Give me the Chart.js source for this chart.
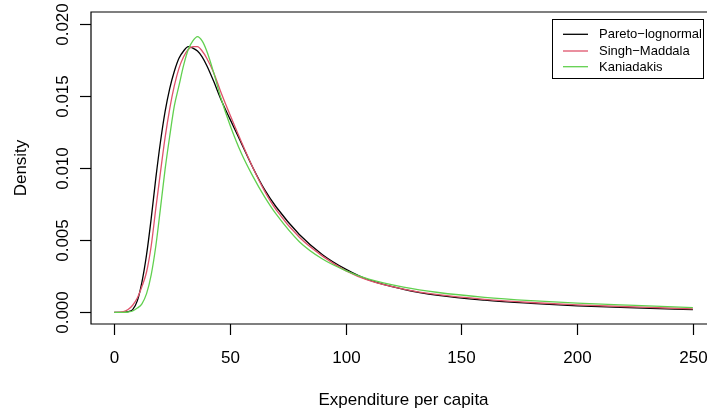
<!DOCTYPE html>
<html>
<head>
<meta charset="utf-8">
<script src="https://cdn.jsdelivr.net/npm/chart.js@4"></script>
<style>
html,body{margin:0;padding:0;background:#fff;overflow:hidden;}
#wrap{width:707px;height:412px;position:relative;}
</style>
</head>
<body>
<div id="wrap"><canvas id="c" width="707" height="412"></canvas></div>
<script>
const xValues = [0,4,6,8,10,12,14,16,18,20,22,24,26,28,30,32,34,36,38,40,43,46,50,55,60,65,70,80,90,100,110,125,140,160,180,200,225,250];
const paretoLognormal = [0,0.00001,0.00005,0.0002,0.0008,0.0021,0.0040,0.0065,0.0093,0.0118,0.0139,0.0155,0.0167,0.0176,0.0181,0.0184,0.0183,0.0181,0.0177,0.0171,0.0160,0.0148,0.0134,0.0117,0.0100,0.0085,0.0073,0.0054,0.0040,0.0030,0.00225,0.0016,0.00118,0.00085,0.00063,0.00046,0.00031,0.00020];
const singhMaddala = [0,0.00005,0.0002,0.0005,0.0010,0.0018,0.0028,0.0046,0.0072,0.0097,0.0121,0.0141,0.0157,0.0169,0.0177,0.0182,0.0184,0.0184,0.0181,0.0176,0.0166,0.0153,0.0137,0.0118,0.0100,0.0084,0.0071,0.0052,0.0039,0.0029,0.00222,0.00162,0.00123,0.00091,0.00069,0.00053,0.00038,0.00025];
const kaniadakis = [0,0.00001,0.00003,0.0001,0.0003,0.0006,0.0013,0.0026,0.0046,0.0072,0.0099,0.0122,0.0143,0.0157,0.0171,0.0182,0.0188,0.0191,0.0188,0.0181,0.0166,0.0149,0.0130,0.0110,0.0094,0.0080,0.0068,0.0049,0.0037,0.0029,0.00230,0.00175,0.00138,0.00105,0.00082,0.00065,0.00049,0.00034];
const seriesNames = ["Pareto\u2212lognormal","Singh\u2212Maddala","Kaniadakis"];
const seriesColors = ["#000000","#DF536B","#61D04F"];
const xTicks = [0,50,100,150,200,250];
const xTickLabels = ["0","50","100","150","200","250"];
const yTicks = [0,0.005,0.010,0.015,0.020];
const yTickLabels = ["0.000","0.005","0.010","0.015","0.020"];
const xTitle = "Expenditure per capita";
const yTitle = "Density";

const FONT = '"Liberation Sans", Arial, Helvetica, sans-serif';

function pts(ys){ return xValues.map((x,i)=>({x:x,y:ys[i]})); }

const rFrame = {
  id:'rFrame',
  afterDraw(chart){
    const ctx = chart.ctx, a = chart.chartArea;
    const xs = chart.scales.x, ys = chart.scales.y;
    ctx.save();
    ctx.strokeStyle = '#000'; ctx.lineWidth = 1.2; ctx.lineCap='butt';
    ctx.beginPath();
    ctx.moveTo(a.right+5, a.top); ctx.lineTo(a.left, a.top);
    ctx.lineTo(a.left, a.bottom); ctx.lineTo(a.right+5, a.bottom);
    ctx.stroke();
    ctx.fillStyle = '#000';
    ctx.font = '17px ' + FONT;
    ctx.textAlign = 'center'; ctx.textBaseline = 'alphabetic';
    xTicks.forEach((v,i)=>{
      const px = Math.round(xs.getPixelForValue(v))+0.5;
      ctx.beginPath(); ctx.moveTo(px, a.bottom); ctx.lineTo(px, a.bottom+11); ctx.stroke();
      ctx.fillText(xTickLabels[i], px, 363);
    });
    yTicks.forEach((v,i)=>{
      const py = Math.round(ys.getPixelForValue(v))+0.5;
      ctx.beginPath(); ctx.moveTo(a.left, py); ctx.lineTo(a.left-11, py); ctx.stroke();
      ctx.save();
      ctx.translate(68, py); ctx.rotate(-Math.PI/2);
      ctx.fillText(yTickLabels[i], 0, 0);
      ctx.restore();
    });
    ctx.fillText(xTitle, (a.left + 716)/2, 405);
    ctx.save();
    ctx.translate(26, (a.top+a.bottom)/2); ctx.rotate(-Math.PI/2);
    ctx.fillText(yTitle, 0, 0);
    ctx.restore();
    const L = 552, T = 19, R = 703, B = 78;
    ctx.lineWidth = 1;
    ctx.strokeRect(L+0.5, T+0.5, R-L, B-T);
    ctx.font = '13px ' + FONT;
    ctx.textAlign = 'left'; ctx.textBaseline = 'middle';
    const rows = [34.3, 51, 66.7];
    seriesNames.forEach((n,i)=>{
      ctx.strokeStyle = seriesColors[i]; ctx.lineWidth = 1.3;
      ctx.beginPath(); ctx.moveTo(563, rows[i]); ctx.lineTo(588, rows[i]); ctx.stroke();
      ctx.fillStyle = '#000';
      ctx.fillText(n, 599, rows[i]+0.5);
    });
    ctx.restore();
  }
};

new Chart(document.getElementById('c'), {
  type:'line',
  data:{
    datasets:[
      {label:seriesNames[0], data:pts(paretoLognormal), borderColor:seriesColors[0], order:3},
      {label:seriesNames[1], data:pts(singhMaddala), borderColor:seriesColors[1], order:2},
      {label:seriesNames[2], data:pts(kaniadakis), borderColor:seriesColors[2], order:1}
    ]
  },
  options:{
    responsive:false,
    animation:false,
    devicePixelRatio:1,
    layout:{padding:{top:12,left:0,right:0,bottom:0}},
    elements:{
      line:{borderWidth:1.3, cubicInterpolationMode:'monotone', fill:false},
      point:{radius:0}
    },
    plugins:{legend:{display:false}, tooltip:{enabled:false}},
    scales:{
      x:{type:'linear', min:-10, max:256.1,
         afterFit(s){ s.height = 88; },
         ticks:{display:false}, grid:{display:false}, border:{display:false}},
      y:{type:'linear', min:-0.0008, max:0.0208,
         afterFit(s){ s.width = 91; },
         ticks:{display:false}, grid:{display:false}, border:{display:false}}
    }
  },
  plugins:[rFrame]
});
</script>
</body>
</html>
